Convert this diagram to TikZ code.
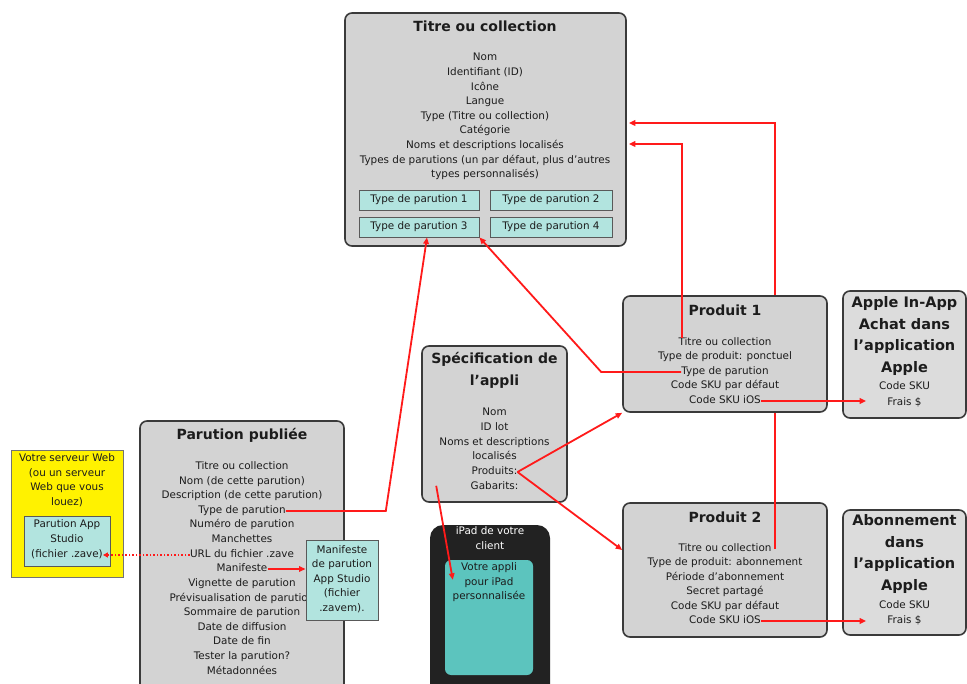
\documentclass[tikz,border=0pt]{standalone}
\usepackage{fontspec}
\setmainfont{DejaVu Sans}
\usetikzlibrary{arrows.meta,calc}
\definecolor{boxgray}{HTML}{D3D3D3}
\definecolor{boxgray2}{HTML}{DCDCDC}
\definecolor{boxedge}{HTML}{3A3A3A}
\definecolor{txt}{HTML}{1C1C1C}
\definecolor{lteal}{HTML}{B2E4DF}
\definecolor{dteal}{HTML}{5CC4BE}
\definecolor{ipadblk}{HTML}{222222}
\definecolor{redl}{HTML}{FF1A1A}
\begin{document}
\begin{tikzpicture}[x=1pt,y=-1pt,
  box/.style={draw=boxedge, fill=boxgray, line width=1.6pt, rounded corners=7pt, inner sep=0pt},
  box2/.style={box, fill=boxgray2},
  tbox/.style={draw=black!65, fill=lteal, line width=0.9pt, minimum height=20pt, inner sep=0pt, font=\fontsize{10.4}{12}\selectfont, text=txt},
  t/.style={inner sep=0pt, text height=7.8pt, text depth=2.4pt, font=\fontsize{10.4}{12}\selectfont, text=txt},
  tw/.style={t, text=white},
  ti/.style={inner sep=0pt, align=center, font=\fontsize{14}{22}\selectfont\bfseries, text=txt},
  ti2/.style={inner sep=0pt, align=center, font=\fontsize{14.5}{21.7}\selectfont\bfseries, text=txt},
  ml/.style={inner sep=0pt, align=center, font=\fontsize{10.4}{14.5}\selectfont, text=txt},
  arr/.style={draw=redl, line width=1.8pt, -{Triangle[length=6.5pt,width=5.5pt]}},
  arrd/.style={draw=redl, line width=1.5pt, dotted, -{Triangle[length=5pt,width=5pt]}}
]
\useasboundingbox (0,0) rectangle (967,684);
\clip (0,0) rectangle (967,684);
\fill[white] (0,0) rectangle (967,684);

% ---------- Titre ou collection ----------
\node[box, minimum width=281pt, minimum height=233pt] (titre) at (485.5,129.5) {};
\node[ti] (titreT) at (485,26) {Titre ou collection};
\node[t] (tl1) at (485,58) {Nom};
\node[t] (tl2) at (485,73) {Identifiant (ID)};
\node[t] (tl3) at (485,88) {Icône};
\node[t] (tl4) at (485,102) {Langue};
\node[t] (tl5) at (485,117) {Type (Titre ou collection)};
\node[t] (tl6) at (485,131) {Catégorie};
\node[t] (tl7) at (485,146) {Noms et descriptions localisés};
\node[t] (tl8) at (485,161) {Types de parutions (un par défaut, plus d'autres};
\node[t] (tl9) at (485,175) {types personnalisés)};
\node[tbox, minimum width=120pt] (T1) at (419,200) {Type de parution 1};
\node[tbox, minimum width=122pt] (T2) at (551,200) {Type de parution 2};
\node[tbox, minimum width=120pt] (T3) at (419,227) {Type de parution 3};
\node[tbox, minimum width=122pt] (T4) at (551,227) {Type de parution 4};
\coordinate (inA) at ($(titre.east)+(2,-6.5)$);
\coordinate (inB) at ($(titre.east)+(2,14.5)$);

% ---------- Produit 2 ----------
\node[box, minimum width=204pt, minimum height=134pt] (p2) at (725,570) {};
\node[ti] (p2T) at (725,517) {Produit 2};
\node[t] (p2l1) at (725,549) {Titre ou collection};
\node[t] (p2l2) at (725,563) {Type de produit: abonnement};
\node[t] (p2l3) at (725,578) {Période d'abonnement};
\node[t] (p2l4) at (725,592) {Secret partagé};
\node[t] (p2l5) at (725,607) {Code SKU par défaut};
\node[t] (p2l6) at (725,621) {Code SKU iOS};

% connector behind Produit 1
\draw[arr] ($(p2l1.east)+(3,0)$) |- (inA);

% ---------- Produit 1 ----------
\node[box, minimum width=204pt, minimum height=116pt] (p1) at (725,354) {};
\node[ti] (p1T) at (725,310) {Produit 1};
\node[t] (p1l1) at (725,343) {Titre ou collection};
\node[t] (p1l2) at (725,357) {Type de produit: ponctuel};
\node[t] (p1l3) at (725,372) {Type de parution};
\node[t] (p1l4) at (725,386) {Code SKU par défaut};
\node[t] (p1l5) at (725,401) {Code SKU iOS};

% ---------- Apple boxes ----------
\node[box2, minimum width=123pt, minimum height=127pt] (apple) at (904.5,354.5) {};
\node[ti2] (appleT) at (904.5,336) {Apple In-App\\Achat dans\\l'application\\Apple};
\node[t] (al1) at (904.5,387) {Code SKU};
\node[t] (al2) at (904.5,403) {Frais \$};

\node[box2, minimum width=123pt, minimum height=125pt] (abo) at (904.5,572.5) {};
\node[ti2] (aboT) at (904.5,554) {Abonnement\\dans\\l'application\\Apple};
\node[t] (bl1) at (904.5,606) {Code SKU};
\node[t] (bl2) at (904.5,621) {Frais \$};

% ---------- Spécification de l'appli ----------
\node[box, minimum width=145pt, minimum height=156pt] (spec) at (494.5,424) {};
\node[ti] (specT) at (494.5,370) {Spécification de\\l'appli};
\node[t] (sl1) at (494.5,413) {Nom};
\node[t] (sl2) at (494.5,428) {ID lot};
\node[t] (sl3) at (494.5,443) {Noms et descriptions};
\node[t] (sl4) at (494.5,457) {localisés};
\node[t] (sl5) at (494.5,472) {Produits:};
\node[t] (sl6) at (494.5,487) {Gabarits:};

% ---------- iPad ----------
\node[fill=ipadblk, rounded corners=13pt, minimum width=120pt, minimum height=175pt, inner sep=0pt] (ipad) at (490,612.5) {};
\node[tw] (il1) at (490,532) {iPad de votre};
\node[tw] (il2) at (490,547) {client};
\node[fill=dteal, rounded corners=6pt, minimum width=88pt, minimum height=115pt, inner sep=0pt] (scr) at (489,617.5) {};
\node[t] (sc1) at (489,568) {Votre appli};
\node[t] (sc2) at (489,583) {pour iPad};
\node[t] (sc3) at (489,597) {personnalisée};

% ---------- Parution publiée ----------
\node[box, minimum width=204pt, minimum height=288pt] (pp) at (242,565) {};
\node[ti] (ppT) at (242,435) {Parution publiée};
\node[t] (pl1) at (242,467) {Titre ou collection};
\node[t] (pl2) at (242,482) {Nom (de cette parution)};
\node[t] (pl3) at (242,496) {Description (de cette parution)};
\node[t] (pl4) at (242,511) {Type de parution};
\node[t] (pl5) at (242,525) {Numéro de parution};
\node[t] (pl6) at (242,540) {Manchettes};
\node[t] (pl7) at (242,555) {URL du fichier .zave};
\node[t] (pl8) at (242,569) {Manifeste};
\node[t] (pl9) at (242,584) {Vignette de parution};
\node[t] (pl10) at (242,599) {Prévisualisation de parution};
\node[t] (pl11) at (242,613) {Sommaire de parution};
\node[t] (pl12) at (242,628) {Date de diffusion};
\node[t] (pl13) at (242,642) {Date de fin};
\node[t] (pl14) at (242,657) {Tester la parution?};
\node[t] (pl15) at (242,672) {Métadonnées};

\node[draw=black!65, fill=lteal, line width=0.9pt, minimum width=72pt, minimum height=80pt, inner sep=0pt] (mani) at (342,580) {};
\node[ml] (maniT) at (342,579) {Manifeste\\de parution\\App Studio\\(fichier\\.zavem).};

% ---------- Web server ----------
\node[draw=black!55, fill=yellow, line width=0.9pt, minimum width=112pt, minimum height=127pt, inner sep=0pt] (yel) at (67,513.5) {};
\node[ml] (yelT) at (67,480) {Votre serveur Web\\(ou un serveur\\Web que vous\\louez)};
\node[draw=black!65, fill=lteal, line width=0.9pt, minimum width=86pt, minimum height=50pt, inner sep=0pt] (zave) at (67,541) {};
\node[t] (yl1) at (67,525) {Parution App};
\node[t] (yl2) at (67,540) {Studio};
\node[t] (yl3) at (67,555) {(fichier .zave)};

% ---------- connectors ----------
\coordinate (bendC) at ($(p1.west |- p1l3.west)+(-21,0)$);
\coordinate (bendD) at ($(pp.east |- pl4.east)+(41,0)$);
\coordinate (ipsrc) at ($(spec.south west)+(15,-17)$);
\coordinate (iptgt) at ($(scr.north west)+(8,20)$);

\draw[arr] ($(p1l1.north west)+(4,0)$) |- (inB);
\draw[arr] (p1l3.west) -- (bendC) -- (T3.south east);
\draw[arr] (pl4.east) -- (bendD) -- ($(T3.south)+(8,0)$);
\draw[arr] (sl5.east) -- (p1.south west);
\draw[arr] (sl5.east) -- ($(p2.west)+(0,-20)$);
\draw[arr] (ipsrc) -- (iptgt);
\draw[arr] (p1l5.east) -- ($(apple.west |- p1l5.east)+(24,0)$);
\draw[arr] (p2l6.east) -- ($(abo.west |- p2l6.east)+(24,0)$);
\draw[arr] (pl8.east) -- (mani.west |- pl8.east);
\draw[arrd] (pl7.west) -- (yl3.east);
\end{tikzpicture}
\end{document}
